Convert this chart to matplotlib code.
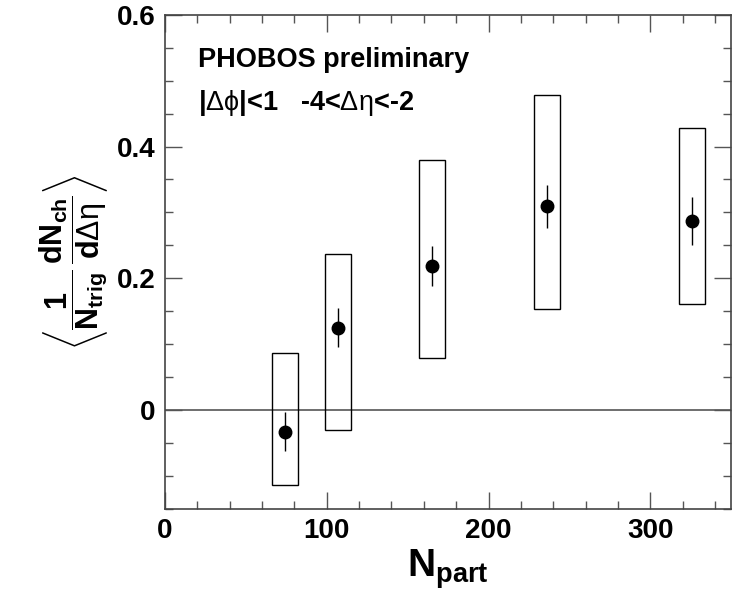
import numpy as np
import matplotlib
matplotlib.use("Agg")
import matplotlib.pyplot as plt
from matplotlib.patches import Rectangle
from matplotlib.ticker import MultipleLocator

# data
npart = [74, 107, 165, 236, 326]
yield_vals = [-0.033, 0.125, 0.219, 0.309, 0.287]
stat_err = [0.030, 0.030, 0.030, 0.033, 0.036]
sys_low = [-0.114, -0.031, 0.079, 0.154, 0.161]
sys_high = [0.086, 0.237, 0.380, 0.478, 0.428]
box_half_width = 8

plt.rcParams['font.family'] = ['Liberation Sans', 'DejaVu Sans']
plt.rcParams['mathtext.fontset'] = 'custom'
plt.rcParams['mathtext.rm'] = 'Liberation Sans'
plt.rcParams['mathtext.bf'] = 'Liberation Sans:bold'
plt.rcParams['mathtext.it'] = 'Liberation Sans:italic'

fig = plt.figure(figsize=(7.37, 5.95), dpi=100)
ax = fig.add_axes([0.224, 0.145, 0.768, 0.830])

ax.axhline(0, color='#555555', lw=1.2, zorder=1)

for x, lo, hi in zip(npart, sys_low, sys_high):
    ax.add_patch(Rectangle((x - box_half_width, lo), 2 * box_half_width, hi - lo,
                           fill=False, edgecolor='black', lw=1.0, zorder=2))

ax.errorbar(npart, yield_vals, yerr=stat_err, fmt='o', color='black',
            ms=9, elinewidth=1.0, capsize=0, zorder=3)

ax.set_xlim(0, 350)
ax.set_ylim(-0.15, 0.6)
ax.xaxis.set_major_locator(MultipleLocator(100))
ax.xaxis.set_minor_locator(MultipleLocator(20))
ax.yaxis.set_major_locator(MultipleLocator(0.2))
ax.yaxis.set_minor_locator(MultipleLocator(0.05))
ax.set_yticks([0, 0.2, 0.4, 0.6])
ax.set_yticklabels(['0', '0.2', '0.4', '0.6'])

ax.tick_params(which='both', direction='in', top=True, right=True,
               color='#555555', width=1.0)
ax.tick_params(which='major', length=12, labelsize=20, pad=7)
ax.tick_params(which='minor', length=6)
for lab in ax.get_xticklabels() + ax.get_yticklabels():
    lab.set_fontweight('bold')
for sp in ax.spines.values():
    sp.set_color('#444444')
    sp.set_linewidth(1.2)

ax.set_xlabel(r'$\mathbf{N}_{\mathbf{part}}$', fontsize=28, labelpad=2)
ax.set_ylabel(r'$\left\langle\dfrac{\mathbf{1}}{\mathbf{N}_{\mathbf{trig}}}\,'
              r'\dfrac{\mathbf{dN}_{\mathbf{ch}}}{\mathbf{d}\Delta\mathrm{\eta}}\right\rangle$',
              fontsize=22, labelpad=4)

ax.text(0.058, 0.895, 'PHOBOS preliminary', transform=ax.transAxes,
        fontsize=19.5, fontweight='bold', va='baseline')
ax.text(0.058, 0.808, r'|$\Delta\mathrm{\phi}$|<1   -4<$\Delta\mathrm{\eta}$<-2',
        transform=ax.transAxes, fontsize=19.5, fontweight='bold', va='baseline')

fig.savefig('out.png', dpi=100)
